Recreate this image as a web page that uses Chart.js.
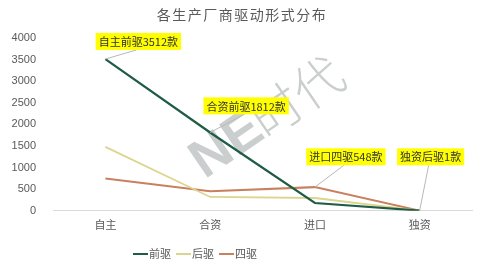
<!DOCTYPE html>
<html><head><meta charset="utf-8">
<script src="https://cdn.jsdelivr.net/npm/chart.js@4/dist/chart.umd.min.js"></script>
<style>html,body{margin:0;padding:0;background:#fff}#w{width:480px;height:267px}</style>
</head><body><div id="w"><canvas id="c" width="480" height="267"></canvas></div>
<script>
const categories = ['自主', '合资', '进口', '独资'];
const frontDrive = [3512, 1812, 180, 5];
const rearDrive = [1480, 320, 296, 1];
const fourDrive = [750, 450, 548, 3];
const seriesNames = ['前驱', '后驱', '四驱'];
const yTicks = [0, 500, 1000, 1500, 2000, 2500, 3000, 3500, 4000];
const titleText = '各生产厂商驱动形式分布';
// callouts: [text, dataset index, category index, box center x offset (px), box center y (value)]
const callouts = [
  ['自主前驱3512款', 0, 0, 33, 3920],
  ['合资前驱1812款', 0, 1, 36, 2430],
  ['进口四驱548款', 2, 2, 31, 1250],
  ['独资后驱1款', 1, 3, 11, 1250]
];
const FONT = '"Noto Sans CJK SC", "Noto Sans", sans-serif';

const overlay = {
  id: 'overlay',
  beforeDatasetsDraw(chart) {
    const ctx = chart.ctx;
    ctx.save();
    ctx.translate(255, 127);
    ctx.rotate(-0.6);
    ctx.fillStyle = 'rgba(160,165,165,0.55)';
    ctx.textBaseline = 'middle';
    ctx.font = 'bold 54px "Liberation Sans", sans-serif';
    ctx.textAlign = 'right';
    ctx.fillText('NE', 4, 0);
    ctx.font = '300 50px ' + FONT;
    ctx.textAlign = 'left';
    ctx.fillText('时代', 2, -2);
    ctx.restore();
  },
  afterDatasetsDraw(chart) {
    const ctx = chart.ctx, x = chart.scales.x, y = chart.scales.y;
    ctx.save();
    ctx.font = '11px ' + FONT;
    ctx.textBaseline = 'middle';
    ctx.textAlign = 'center';
    callouts.forEach(([t, di, ci, dx, vy]) => {
      const px = x.getPixelForValue(ci), py = y.getPixelForValue(chart.data.datasets[di].data[ci]);
      const bx = px + dx, by = y.getPixelForValue(vy);
      const w = ctx.measureText(t).width + 6, h = 17;
      ctx.strokeStyle = '#b8b8b8'; ctx.lineWidth = 1;
      ctx.beginPath(); ctx.moveTo(bx - 2, by + h / 2); ctx.lineTo(px, py); ctx.stroke();
      ctx.fillStyle = '#ffff00';
      ctx.fillRect(bx - w / 2, by - h / 2, w, h);
      ctx.fillStyle = '#333';
      ctx.fillText(t, bx, by + 0.5);
    });
    // title
    ctx.fillStyle = '#595959';
    ctx.font = '14px ' + FONT;
    ctx.letterSpacing = '1.5px';
    ctx.textAlign = 'center';
    ctx.fillText(titleText, 242, 15);
    ctx.letterSpacing = '0px';
    // legend
    ctx.font = '11px ' + FONT;
    ctx.textAlign = 'left';
    let lx = 133;
    const ly = 254;
    chart.data.datasets.forEach(ds => {
      ctx.strokeStyle = ds.borderColor; ctx.lineWidth = 2;
      ctx.beginPath(); ctx.moveTo(lx, ly); ctx.lineTo(lx + 15, ly); ctx.stroke();
      ctx.fillStyle = '#595959';
      ctx.fillText(ds.label, lx + 16, ly);
      lx += 16 + ctx.measureText(ds.label).width + 5;
    });
    ctx.restore();
  }
};

new Chart(document.getElementById('c'), {
  type: 'line',
  data: {
    labels: categories,
    datasets: [
      { label: seriesNames[0], data: frontDrive, borderColor: '#1f5c45', backgroundColor: '#1f5c45', borderWidth: 2.2 },
      { label: seriesNames[1], data: rearDrive, borderColor: '#dcd58f', backgroundColor: '#dcd58f', borderWidth: 1.8 },
      { label: seriesNames[2], data: fourDrive, borderColor: '#c9805f', backgroundColor: '#c9805f', borderWidth: 2 }
    ]
  },
  plugins: [overlay],
  options: {
    responsive: false, animation: false,
    elements: { point: { radius: 0 }, line: { tension: 0 } },
    layout: { padding: { left: 0, right: 8, top: 38, bottom: 29 } },
    plugins: {
      title: { display: false },
      legend: { display: false },
      tooltip: { enabled: false }
    },
    scales: {
      x: {
        offset: true,
        grid: { display: false, drawTicks: false },
        border: { color: '#d9d9d9' },
        ticks: { color: '#595959', font: { family: FONT, size: 11 }, padding: 7 }
      },
      y: {
        min: 0, max: 4000,
        afterBuildTicks: s => { s.ticks = yTicks.map(v => ({ value: v })); },
        afterFit: s => { s.width = 53; },
        grid: { display: false },
        border: { display: false },
        ticks: { color: '#595959', font: { family: '"Liberation Sans", sans-serif', size: 11 }, padding: 9, callback: v => String(v) }
      }
    }
  }
});
</script></body></html>
